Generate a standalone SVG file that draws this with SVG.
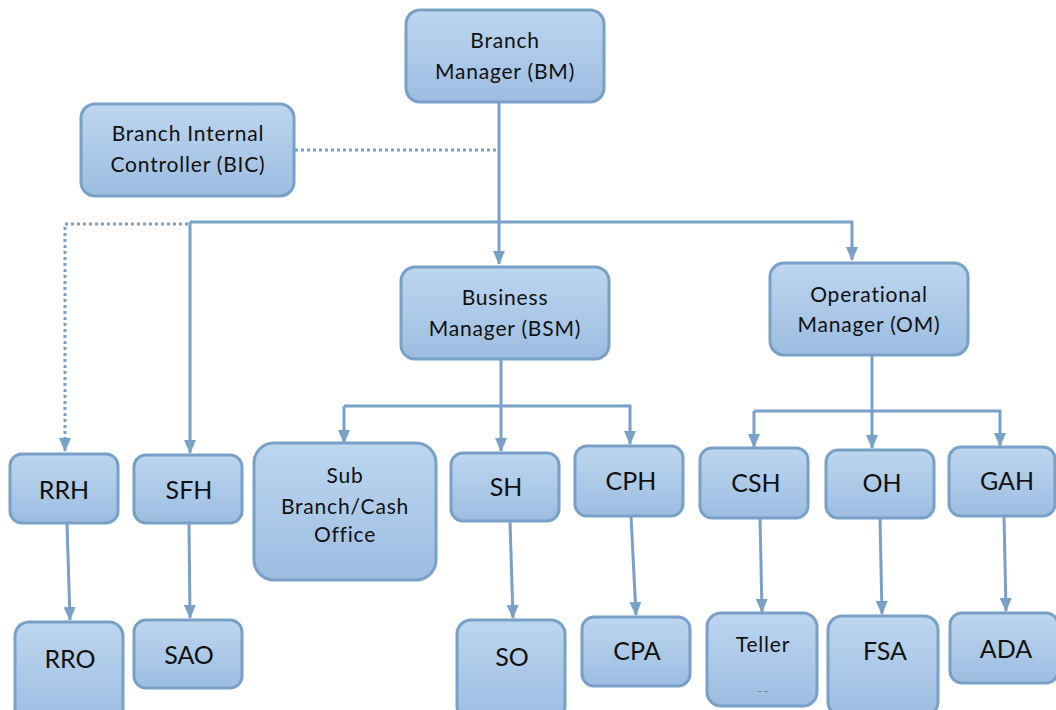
<svg xmlns="http://www.w3.org/2000/svg" width="1056" height="710" viewBox="0 0 1056 710">
<defs>
<linearGradient id="g" x1="0" y1="0" x2="0" y2="1">
<stop offset="0" stop-color="#bdd6f0"/>
<stop offset="1" stop-color="#9cbde0"/>
</linearGradient>
<marker id="arr" viewBox="0 0 14 12" refX="13" refY="6" markerWidth="14" markerHeight="12" markerUnits="userSpaceOnUse" orient="auto">
<path d="M0,0 L14,6 L0,12 Z" fill="#79a0c7"/>
</marker>
</defs>
<style>
.box{fill:url(#g);stroke:#79a0c7;stroke-width:3}
.t{font-family:Lato,"Liberation Sans",sans-serif;font-size:21px;letter-spacing:0.8px;fill:#111;text-anchor:middle}
.a{font-family:Lato,"Liberation Sans",sans-serif;font-size:25px;fill:#111;text-anchor:middle}
.c{fill:none;stroke:#79a0c7;stroke-width:3}
.d{fill:none;stroke:#79a0c7;stroke-width:3;stroke-dasharray:3 3}
</style>
<g id="connectors">
<path class="d" d="M295,150 H499"/>
<path class="c" d="M499,102 V264" marker-end="url(#arr)"/>
<path class="c" d="M190,222 H852 V260" marker-end="url(#arr)"/>
<path class="c" d="M190,222 V453" marker-end="url(#arr)"/>
<path class="d" d="M188,224 H65 V451" marker-end="url(#arr)"/>
<path class="c" d="M501,359 V451" marker-end="url(#arr)"/>
<path class="c" d="M344,406 H630 V444" marker-end="url(#arr)"/>
<path class="c" d="M344,406 V443" marker-end="url(#arr)"/>
<path class="c" d="M872,355 V448" marker-end="url(#arr)"/>
<path class="c" d="M754,411 H1000 V446" marker-end="url(#arr)"/>
<path class="c" d="M754,411 V447" marker-end="url(#arr)"/>
<path class="c" d="M67,523 L70,620" marker-end="url(#arr)"/>
<path class="c" d="M189,523 L190,618" marker-end="url(#arr)"/>
<path class="c" d="M510,521 L513,618" marker-end="url(#arr)"/>
<path class="c" d="M631,516 L636,615" marker-end="url(#arr)"/>
<path class="c" d="M760,518 L762,612" marker-end="url(#arr)"/>
<path class="c" d="M880,518 L882,614" marker-end="url(#arr)"/>
<path class="c" d="M1004,516 L1006,611" marker-end="url(#arr)"/>
</g>
<g id="bm"><rect class="box" x="406" y="10" width="198" height="92" rx="14"/><text class="t" x="505" y="48">Branch</text><text class="t" x="505" y="79">Manager (BM)</text></g>
<g id="bic"><rect class="box" x="81" y="104" width="213" height="92" rx="14"/><text class="t" x="188" y="141">Branch Internal</text><text class="t" x="188" y="172">Controller (BIC)</text></g>
<g id="bsm"><rect class="box" x="401" y="267" width="208" height="92" rx="14"/><text class="t" x="505" y="305">Business</text><text class="t" x="505" y="336">Manager (BSM)</text></g>
<g id="om"><rect class="box" x="770" y="263" width="198" height="92" rx="14"/><text class="t" x="869" y="302">Operational</text><text class="t" x="869" y="332">Manager (OM)</text></g>
<g id="rrh"><rect class="box" x="10" y="454" width="108" height="69" rx="12"/><text class="a" x="64" y="499">RRH</text></g>
<g id="sfh"><rect class="box" x="134" y="455" width="108" height="68" rx="12"/><text class="a" x="189" y="499">SFH</text></g>
<g id="sub"><rect class="box" x="254" y="443" width="182" height="137" rx="20"/><text class="t" x="345" y="483">Sub</text><text class="t" x="345" y="514">Branch/Cash</text><text class="t" x="345" y="542">Office</text></g>
<g id="sh"><rect class="box" x="451" y="453" width="108" height="68" rx="12"/><text class="a" x="506" y="496">SH</text></g>
<g id="cph"><rect class="box" x="575" y="446" width="108" height="70" rx="12"/><text class="a" x="631" y="490">CPH</text></g>
<g id="csh"><rect class="box" x="700" y="448" width="108" height="70" rx="12"/><text class="a" x="756" y="492">CSH</text></g>
<g id="oh"><rect class="box" x="826" y="450" width="108" height="68" rx="12"/><text class="a" x="882" y="492">OH</text></g>
<g id="gah"><rect class="box" x="949" y="447" width="106" height="69" rx="12"/><text class="a" x="1007" y="490">GAH</text></g>
<g id="rro"><rect class="box" x="15" y="622" width="108" height="100" rx="14"/><text class="a" x="70" y="668">RRO</text></g>
<g id="sao"><rect class="box" x="134" y="620" width="108" height="68" rx="12"/><text class="a" x="189" y="664">SAO</text></g>
<g id="so"><rect class="box" x="457" y="620" width="108" height="100" rx="14"/><text class="a" x="512" y="666">SO</text></g>
<g id="cpa"><rect class="box" x="582" y="617" width="108" height="69" rx="12"/><text class="a" x="637" y="660">CPA</text></g>
<g id="teller"><rect class="box" x="707" y="613" width="110" height="93" rx="14"/><text class="t" x="763" y="652">Teller</text><text x="763" y="694" font-family="Lato,'Liberation Sans',sans-serif" font-size="10" fill="#555" text-anchor="middle">- -</text></g>
<g id="fsa"><rect class="box" x="828" y="616" width="110" height="100" rx="14"/><text class="a" x="885" y="660">FSA</text></g>
<g id="ada"><rect class="box" x="950" y="613" width="108" height="70" rx="12"/><text class="a" x="1006" y="658">ADA</text></g>
</svg>
